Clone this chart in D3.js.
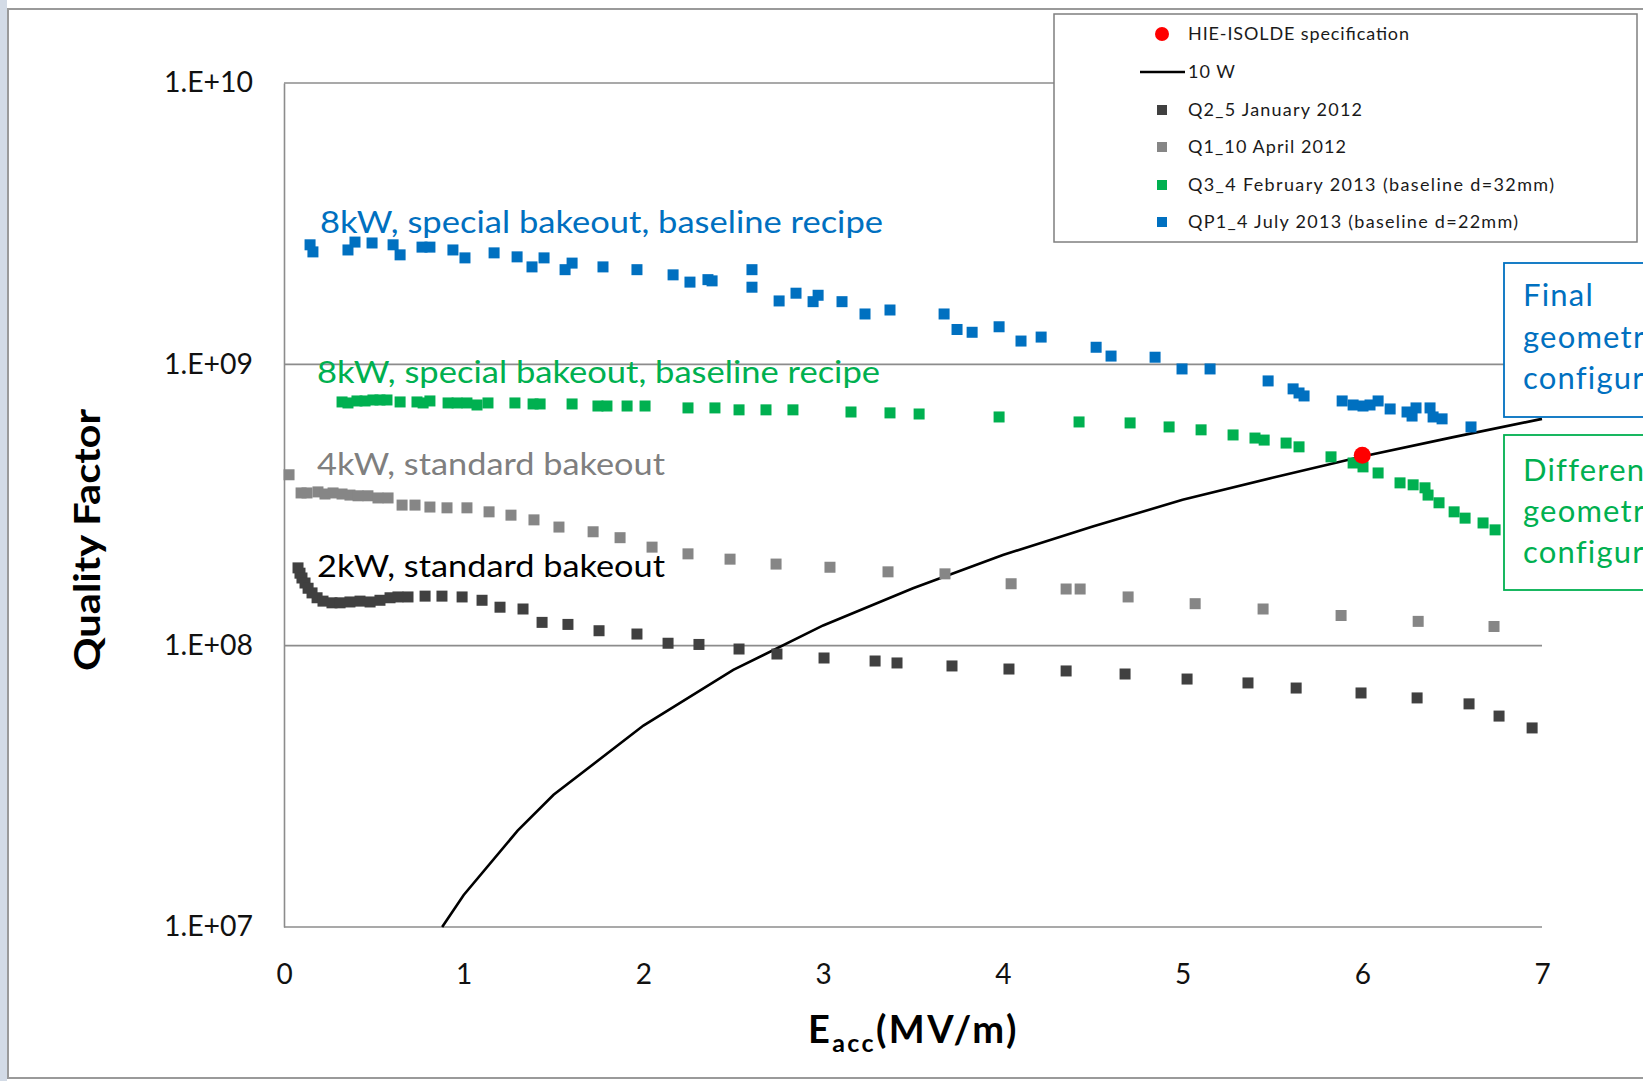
<!DOCTYPE html>
<html><head><meta charset="utf-8">
<script src="https://cdn.jsdelivr.net/npm/d3@7"></script>
<style>
html,body{margin:0;padding:0;background:#fff;overflow:hidden}
svg{display:block;font-family:Lato,"Open Sans",sans-serif}
</style></head>
<body>
<svg id="c" width="1643" height="1081"></svg>
<script>
// ---- data (E_acc in MV/m, Q0) ----
const xTicks = [0,1,2,3,4,5,6,7];
const yTicks = [1e7,1e8,1e9,1e10];

const q2Jan2012 = [[0.078,1.89e8],[0.089,1.81e8],[0.100,1.74e8],[0.117,1.67e8],[0.134,1.60e8],[0.156,1.54e8],[0.184,1.48e8],[0.217,1.44e8],[0.267,1.42e8],[0.312,1.42e8],[0.367,1.43e8],[0.423,1.44e8],[0.479,1.43e8],[0.534,1.45e8],[0.590,1.48e8],[0.634,1.49e8],[0.690,1.49e8],[0.785,1.50e8],[0.879,1.50e8],[0.991,1.49e8],[1.102,1.45e8],[1.202,1.37e8],[1.330,1.35e8],[1.436,1.21e8],[1.580,1.19e8],[1.753,1.13e8],[1.964,1.10e8],[2.137,1.02e8],[2.309,1.01e8],[2.532,9.73e7],[2.743,9.34e7],[3.005,9.04e7],[3.289,8.82e7],[3.411,8.68e7],[3.717,8.47e7],[4.034,8.26e7],[4.352,8.13e7],[4.680,7.93e7],[5.025,7.61e7],[5.364,7.37e7],[5.632,7.07e7],[5.993,6.79e7],[6.305,6.52e7],[6.594,6.21e7],[6.761,5.62e7],[6.945,5.10e7]];

const q1Apr2012 = [[0.028,4.05e8],[0.095,3.49e8],[0.128,3.49e8],[0.189,3.52e8],[0.228,3.46e8],[0.273,3.49e8],[0.323,3.46e8],[0.367,3.43e8],[0.412,3.41e8],[0.467,3.41e8],[0.523,3.35e8],[0.579,3.35e8],[0.657,3.16e8],[0.729,3.16e8],[0.812,3.11e8],[0.907,3.09e8],[1.018,3.09e8],[1.141,2.99e8],[1.263,2.91e8],[1.391,2.80e8],[1.530,2.64e8],[1.720,2.54e8],[1.870,2.42e8],[2.048,2.24e8],[2.248,2.12e8],[2.482,2.03e8],[2.738,1.95e8],[3.038,1.90e8],[3.361,1.83e8],[3.678,1.80e8],[4.046,1.66e8],[4.352,1.59e8],[4.430,1.59e8],[4.697,1.49e8],[5.070,1.41e8],[5.448,1.35e8],[5.882,1.28e8],[6.311,1.22e8],[6.733,1.17e8]];

const q3Feb2013 = [[0.323,7.35e8],[0.356,7.29e8],[0.406,7.41e8],[0.451,7.41e8],[0.495,7.47e8],[0.534,7.47e8],[0.573,7.47e8],[0.646,7.35e8],[0.740,7.35e8],[0.774,7.29e8],[0.812,7.41e8],[0.913,7.29e8],[0.963,7.29e8],[1.018,7.29e8],[1.074,7.17e8],[1.135,7.29e8],[1.285,7.29e8],[1.386,7.23e8],[1.425,7.23e8],[1.603,7.23e8],[1.747,7.11e8],[1.797,7.11e8],[1.909,7.11e8],[2.009,7.11e8],[2.248,7.00e8],[2.398,7.00e8],[2.532,6.89e8],[2.682,6.89e8],[2.832,6.89e8],[3.155,6.77e8],[3.372,6.72e8],[3.534,6.66e8],[3.979,6.50e8],[4.424,6.24e8],[4.708,6.19e8],[4.925,5.99e8],[5.103,5.85e8],[5.281,5.61e8],[5.403,5.47e8],[5.454,5.38e8],[5.576,5.25e8],[5.648,5.09e8],[5.826,4.69e8],[5.949,4.46e8],[6.004,4.32e8],[6.088,4.11e8],[6.210,3.79e8],[6.283,3.73e8],[6.349,3.64e8],[6.366,3.43e8],[6.427,3.22e8],[6.511,2.99e8],[6.572,2.84e8],[6.672,2.73e8],[6.739,2.58e8]];

const qp1Jul2013 = [[0.145,2.66e9],[0.161,2.51e9],[0.356,2.55e9],[0.395,2.72e9],[0.490,2.70e9],[0.607,2.66e9],[0.646,2.45e9],[0.768,2.61e9],[0.812,2.61e9],[0.940,2.55e9],[1.007,2.39e9],[1.169,2.49e9],[1.297,2.41e9],[1.380,2.22e9],[1.447,2.39e9],[1.564,2.17e9],[1.603,2.29e9],[1.775,2.22e9],[1.964,2.17e9],[2.165,2.08e9],[2.259,1.96e9],[2.359,2.00e9],[2.382,1.98e9],[2.604,2.17e9],[2.604,1.88e9],[2.755,1.68e9],[2.849,1.79e9],[2.944,1.67e9],[2.972,1.76e9],[3.105,1.67e9],[3.233,1.51e9],[3.372,1.56e9],[3.673,1.51e9],[3.745,1.33e9],[3.829,1.30e9],[3.979,1.36e9],[4.101,1.21e9],[4.213,1.25e9],[4.519,1.15e9],[4.602,1.07e9],[4.847,1.06e9],[4.997,9.63e8],[5.153,9.63e8],[5.476,8.73e8],[5.615,8.18e8],[5.648,7.91e8],[5.676,7.72e8],[5.888,7.41e8],[5.949,7.17e8],[6.004,7.11e8],[6.043,7.17e8],[6.088,7.41e8],[6.155,6.94e8],[6.249,6.77e8],[6.277,6.55e8],[6.299,7.00e8],[6.377,7.00e8],[6.394,6.50e8],[6.444,6.40e8],[6.605,5.99e8]];

const line10W = [[0.88,1.0e7],[1.0,1.3e7],[1.3,2.2e7],[1.5,2.95e7],[2.0,5.2e7],[2.5,8.2e7],[3.0,1.18e8],[3.5,1.6e8],[4.0,2.1e8],[4.5,2.65e8],[5.0,3.3e8],[5.5,3.95e8],[6.0,4.7e8],[6.5,5.5e8],[7.0,6.4e8]];

const hieSpec = [[6.0,4.75e8]];

const legendLabels = ["HIE-ISOLDE specification","10 W","Q2_5 January 2012","Q1_10 April 2012","Q3_4 February 2013 (baseline d=32mm)","QP1_4 July 2013 (baseline d=22mm)"];

// ---- drawing ----
const svg = d3.select("#c");
const C = {blue:"#0070C0", green:"#00B050", gray:"#868686", dark:"#404040", red:"#FF0000", grid:"#8C8C8C"};

// slide edge strip and outer chart border
svg.append("rect").attr("x",0).attr("y",0).attr("width",7).attr("height",1081).attr("fill","#d3dbe6");
svg.append("rect").attr("x",8).attr("y",9).attr("width",1700).attr("height",1069)
  .attr("fill","#fff").attr("stroke","#9a9a9a").attr("stroke-width",2);

const x = d3.scaleLinear().domain([0,7]).range([284,1542]);
const y = d3.scaleLog().domain([1e7,1e10]).range([927,83]);

// gridlines
svg.append("g").selectAll("line").data(yTicks).join("line")
  .attr("x1",x(0)).attr("x2",x(7)).attr("y1",d=>y(d)).attr("y2",d=>y(d))
  .attr("stroke",C.grid).attr("stroke-width",1.6);

// y axis
const fmt = d => "1.E+" + String(Math.round(Math.log10(d))).padStart(2,"0");
const yAx = svg.append("g").attr("transform",`translate(${x(0)},0)`)
  .call(d3.axisLeft(y).tickValues(yTicks).tickFormat(fmt).tickSize(0).tickPadding(31));
yAx.select(".domain").attr("stroke",C.grid).attr("stroke-width",1.6);
yAx.selectAll("text").attr("font-size",28).attr("fill","#111").attr("font-family","Lato")
  .attr("textLength",89).attr("lengthAdjust","spacingAndGlyphs");

// x axis
const xAx = svg.append("g").attr("transform",`translate(0,${y(1e7)})`)
  .call(d3.axisBottom(x).tickValues(xTicks).tickFormat(d3.format("d")).tickSize(0).tickPadding(37));
xAx.select(".domain").remove();
xAx.selectAll("text").attr("font-size",28).attr("fill","#111").attr("font-family","Lato");

// axis titles
svg.append("text").attr("transform","translate(100,540) rotate(-90)")
  .attr("text-anchor","middle").attr("font-weight","bold").attr("font-size",37)
  .attr("textLength",262).attr("lengthAdjust","spacingAndGlyphs").attr("fill","#000")
  .text("Quality Factor");
const xt = svg.append("text").attr("x",808).attr("y",1043).attr("font-weight","bold").attr("font-size",38)
  .attr("fill","#000").attr("letter-spacing",2.4);
xt.append("tspan").text("E");
xt.append("tspan").attr("font-size",25).attr("dy",9).text("acc");
xt.append("tspan").attr("dy",-9).text("(MV/m)");

// 10 W line
svg.append("path").datum(line10W)
  .attr("d", d3.line().x(d=>x(d[0])).y(d=>y(d[1])))
  .attr("fill","none").attr("stroke","#000").attr("stroke-width",2.6);

// scatter series
const S = 11;
function squares(data, color){
  svg.append("g").selectAll("rect").data(data).join("rect")
    .attr("x",d=>x(d[0])-S/2).attr("y",d=>y(d[1])-S/2)
    .attr("width",S).attr("height",S).attr("fill",color);
}
squares(q2Jan2012, C.dark);
squares(q1Apr2012, C.gray);
squares(q3Feb2013, C.green);
squares(qp1Jul2013, C.blue);

svg.append("g").selectAll("circle").data(hieSpec).join("circle")
  .attr("cx",d=>x(d[0])).attr("cy",d=>y(d[1])).attr("r",8.5).attr("fill",C.red);

// annotations
function label(t, xx, yy, color, len){
  svg.append("text").attr("x",xx).attr("y",yy).attr("font-size",30).attr("fill",color)
    .attr("textLength",len).attr("lengthAdjust","spacingAndGlyphs").text(t);
}
label("8kW, special bakeout, baseline recipe", 320, 233, C.blue, 563);
label("8kW, special bakeout, baseline recipe", 317, 383, C.green, 563);
label("4kW, standard bakeout", 317, 475, "#7f7f7f", 348);
label("2kW, standard bakeout", 317, 577, "#000", 348);

// right-hand boxes (cut by the picture edge, as in the original slide)
function box(y0, h, color, lines, baselines){
  svg.append("rect").attr("x",1504).attr("y",y0).attr("width",300).attr("height",h)
    .attr("fill","#fff").attr("stroke",color).attr("stroke-width",1.8);
  lines.forEach((t,i)=>svg.append("text").attr("x",1523).attr("y",baselines[i])
    .attr("font-size",31).attr("letter-spacing",1.2).attr("fill",color).text(t));
}
box(263,154,C.blue,["Final","geometrical","configuration"],[306,348,389]);
box(435,155,C.green,["Different","geometrical","configuration"],[481,522,563]);

// legend
const legendTextWidths = [221,47,174,158,366,330];
const lg = svg.append("g");
lg.append("rect").attr("x",1054).attr("y",14).attr("width",583).attr("height",228)
  .attr("fill","#fff").attr("stroke","#7f7f7f").attr("stroke-width",1.5);
const rowsY = [34,72,110,147,185,222];
legendLabels.forEach((t,i)=>{
  lg.append("text").attr("x",1188).attr("y",rowsY[i]).attr("dy","0.35em")
    .attr("font-size",18).attr("fill","#1a1a1a")
    .attr("textLength",legendTextWidths[i]).attr("lengthAdjust","spacing").text(t);
});
lg.append("circle").attr("cx",1162).attr("cy",rowsY[0]).attr("r",7).attr("fill",C.red);
lg.append("line").attr("x1",1140).attr("x2",1185).attr("y1",rowsY[1]).attr("y2",rowsY[1])
  .attr("stroke","#000").attr("stroke-width",2.6);
[C.dark,C.gray,C.green,C.blue].forEach((c,i)=>{
  lg.append("rect").attr("x",1157).attr("y",rowsY[i+2]-5).attr("width",10).attr("height",10).attr("fill",c);
});
</script>
</body></html>
